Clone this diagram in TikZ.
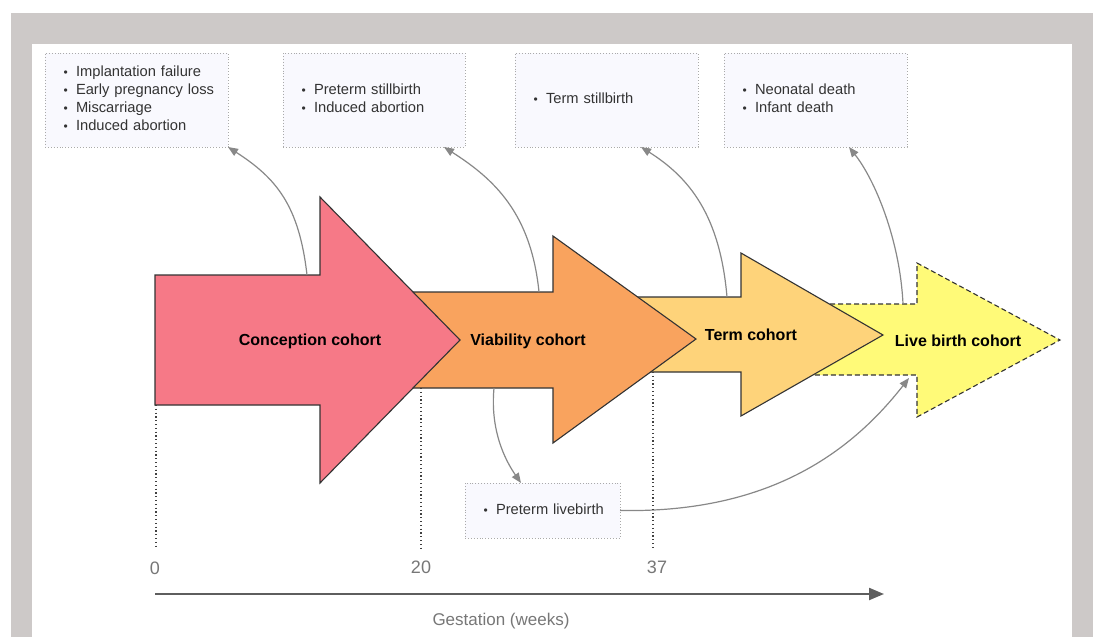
\documentclass[tikz,border=0pt]{standalone}
\usepackage{fontspec}
\setmainfont{Liberation Sans}
\usetikzlibrary{arrows.meta}
\definecolor{framegray}{HTML}{CDC9C8}
\definecolor{pinkc}{HTML}{F67987}
\definecolor{orangec}{HTML}{F9A35E}
\definecolor{termc}{HTML}{FED37A}
\definecolor{livec}{HTML}{FFFA78}
\definecolor{boxfill}{HTML}{F9F9FE}
\definecolor{boxline}{HTML}{AAAAAA}
\definecolor{connc}{HTML}{888888}
\definecolor{axisc}{HTML}{5E5E5E}
\definecolor{labelc}{HTML}{777777}
\definecolor{txtc}{HTML}{333333}
\newcommand\bul{\makebox[12pt][l]{\hspace{-0.5pt}\fontsize{12}{12}\selectfont •}}
\newcommand\itemlines[1]{\begin{tabular}{@{}l@{}}#1\end{tabular}}
\begin{document}
\begin{tikzpicture}[x=1pt,y=-1pt,
  outbox/.style={draw=boxline, dotted, line width=0.9pt, fill=boxfill, text=txtc,
    inner xsep=19pt, inner ysep=0pt, outer sep=0pt, align=left,
    font=\fontsize{14.7}{17.7}\selectfont},
  cohort/.style={font=\bfseries\fontsize{16}{19}\selectfont, text=black},
  blockarrow/.style={draw=black!80, line width=1.1pt, line join=miter},
  conn/.style={draw=connc, line width=1.2pt, -{Triangle[length=10pt,width=8pt]}},
  tickline/.style={draw=black!75, line width=1.2pt, dash pattern=on 1.2pt off 2.6pt},
  ticklabel/.style={text=labelc, font=\fontsize{18}{20}\selectfont},
  axisline/.style={draw=axisc, line width=2.2pt, -{Triangle[length=15pt,width=12pt]}}]
\useasboundingbox (0,0) rectangle (1098,637);
% frame
\fill[framegray] (11,13) rectangle (1093,637);
\fill[white] (32,44) rectangle (1072,637);

% block arrows (back to front)
\draw[blockarrow, fill=livec, dashed, dash pattern=on 5pt off 3pt] (790,304) -- (917,304) -- (917,263) -- (1060,340) -- (917,417) -- (917,375) -- (790,375) -- cycle;
\draw[blockarrow, fill=termc] (620,297) -- (741,297) -- (741,253) -- (883,335) -- (741,416) -- (741,372) -- (620,372) -- cycle;
\draw[blockarrow, fill=orangec] (400,292) -- (553,292) -- (553,236) -- (696,339) -- (553,443) -- (553,388) -- (400,388) -- cycle;
\draw[blockarrow, fill=pinkc] (155,275) -- (320,275) -- (320,197) -- (460,340) -- (320,483) -- (320,405) -- (155,405) -- cycle;

\node[cohort] (conc) at (310,341) {Conception cohort};
\node[cohort] (viab) at (528,341) {Viability cohort};
\node[cohort] (term) at (751,335) {Term cohort};
\node[cohort] (live) at (958,341) {Live birth cohort};

% connection points on the arrows
\coordinate (s1) at (307,275);
\coordinate (s2) at (539,292);
\coordinate (s3) at (727,297);
\coordinate (s4) at (903,304);
\coordinate (s5) at (494,388);
\coordinate (e6) at (909,378);

% outcome boxes
\node[outbox, text width=145pt, minimum width=183pt, minimum height=94pt] (b1) at (136.5,100)
  {\itemlines{\bul Implantation failure\\\bul Early pregnancy loss\\\bul Miscarriage\\\bul Induced abortion}};
\node[outbox, text width=144pt, minimum width=182pt, minimum height=94pt] (b2) at (374,100)
  {\itemlines{\bul Preterm stillbirth\\\bul Induced abortion}};
\node[outbox, text width=145pt, minimum width=183pt, minimum height=94pt] (b3) at (606.5,100)
  {\itemlines{\bul Term stillbirth}};
\node[outbox, text width=145pt, minimum width=183pt, minimum height=94pt] (b4) at (815.5,100)
  {\itemlines{\bul Neonatal death\\\bul Infant death}};
\node[outbox, text width=117pt, minimum width=155pt, minimum height=55pt] (b5) at (542.5,510.5)
  {\itemlines{\bul Preterm livebirth}};

% connectors
\draw[conn] (s1) .. controls (299,205) and (276,178) .. (b1.south east);
\draw[conn] (s2) .. controls (531,213) and (494,179) .. ([xshift=-21pt]b2.south east);
\draw[conn] (s3) .. controls (720,216) and (690,178) .. ([xshift=-57pt]b3.south east);
\draw[conn] (s4) .. controls (900,240) and (875,180) .. ([xshift=-58pt]b4.south east);
\draw[conn] (s5) .. controls (490,430) and (505,460) .. ([xshift=56pt]b5.north west);
\draw[conn] (b5.east) .. controls (760,513) and (845,460) .. (e6);

% gestation ticks
\coordinate (t0) at (156,405);
\coordinate (t20) at (421,388);
\coordinate (t37) at (653,372);
\coordinate (f0) at (156,548);
\coordinate (f20) at (421,548);
\coordinate (f37) at (653,548);
\draw[tickline] (t0) -- (f0);
\draw[tickline] (t20) -- (f20);
\draw[tickline] (t37) -- (f37);
\node[ticklabel] (l0) at (155,568) {0};
\node[ticklabel] (l20) at (421,567) {20};
\node[ticklabel] (l37) at (657,567) {37};

% axis
\coordinate (ax0) at (155,594);
\coordinate (ax1) at (884,594);
\draw[axisline] (ax0) -- (ax1);
\node[text=labelc, font=\fontsize{17}{20}\selectfont] (gest) at (501,621) {Gestation (weeks)};
\end{tikzpicture}
\end{document}
